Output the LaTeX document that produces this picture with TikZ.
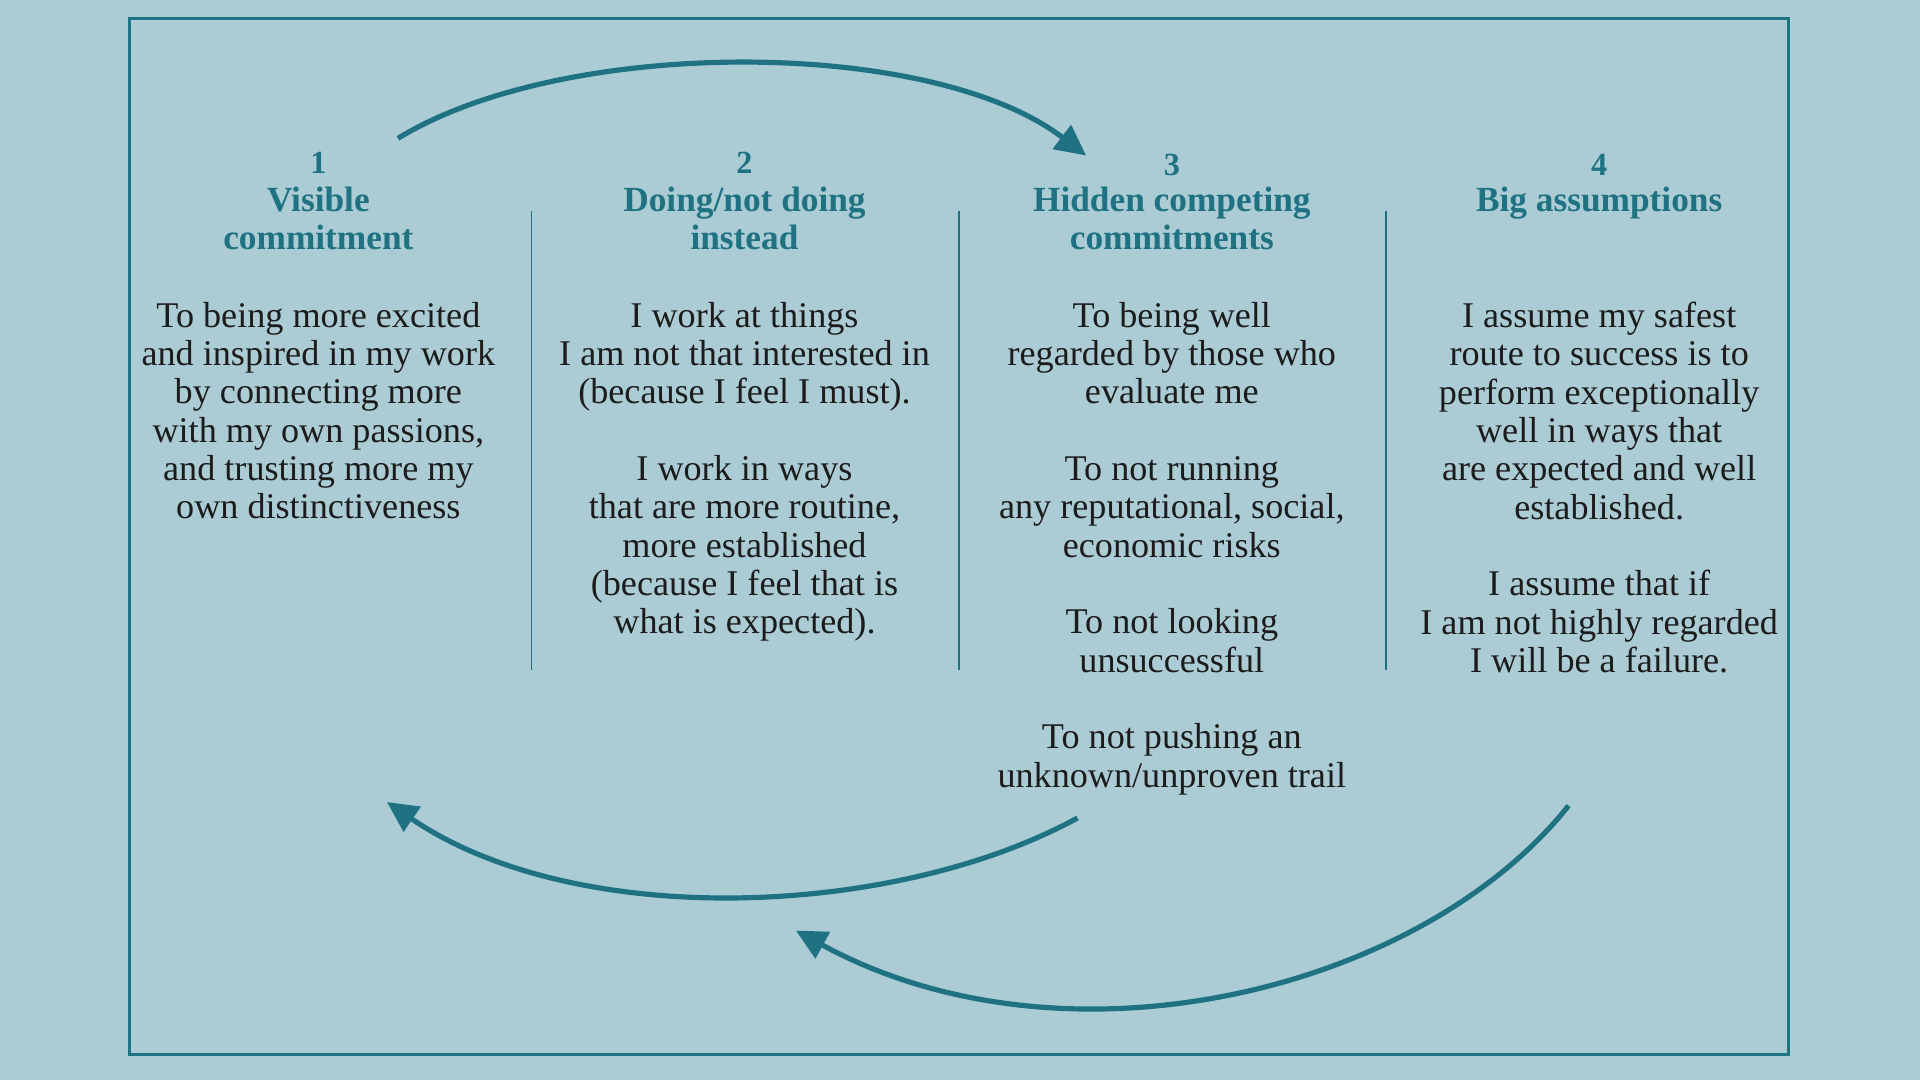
\documentclass[tikz,border=0pt]{standalone}
\usepackage{fontspec}
\setmainfont{Liberation Serif}
\usetikzlibrary{arrows.meta}
\definecolor{bg}{HTML}{ABCCD4}
\definecolor{teal}{HTML}{1E7282}
\definecolor{ink}{HTML}{1C1C1C}
\tikzset{
  num/.style={text=teal,font=\bfseries\fontsize{7.5}{8}\selectfont},
  head/.style={text=teal,font=\bfseries\fontsize{8.2}{8.9}\selectfont,align=center,anchor=north,inner sep=0pt},
  body/.style={text=ink,font=\fontsize{8.4}{8.9}\selectfont,align=center,anchor=north,inner sep=0pt},
  divider/.style={draw=teal,line width=0.4pt},
  cyc/.style={draw=teal,line width=1.2pt,-{Triangle[length=0.25cm,width=0.24cm]}}
}
\begin{document}
\begin{tikzpicture}[x=0.01cm,y=-0.01cm]
\fill[bg] (0,0) rectangle (1568,882);
\useasboundingbox (0,0) rectangle (1568,882);
\draw[teal,line width=0.7pt] (106,15) rectangle (1461,861);
\foreach \x in {434,783,1132} \draw[divider] (\x,172) -- (\x,547);
\node[num] (n1) at (260,133) {1};
\node[num] (n2) at (608,133) {2};
\node[num] (n3) at (957,135) {3};
\node[num] (n4) at (1306,135) {4};
\node[head] (h1) at (260,152) {Visible\\commitment};
\node[head] (h2) at (608,152) {Doing/not doing\\instead};
\node[head] (h3) at (957,152) {Hidden competing\\commitments};
\node[head] (h4) at (1306,152) {Big assumptions};
\node[body] (b1) at (260,246) {To being more excited\\and inspired in my work\\by connecting more\\with my own passions,\\and trusting more my\\own distinctiveness};
\node[body] (b2) at (608,246) {I work at things\\I am not that interested in\\(because I feel I must).\\[8.9pt]I work in ways\\that are more routine,\\more established\\(because I feel that is\\what is expected).};
\node[body] (b3) at (957,246) {To being well\\regarded by those who\\evaluate me\\[8.9pt]To not running\\any reputational, social,\\economic risks\\[8.9pt]To not looking\\unsuccessful\\[8.9pt]To not pushing an\\unknown/unproven trail};
\node[body] (b4) at (1306,246) {I assume my safest\\route to success is to\\perform exceptionally\\well in ways that\\are expected and well\\established.\\[8.9pt]I assume that if\\I am not highly regarded\\I will be a failure.};
\coordinate (a1s) at (325,113); \coordinate (a1e) at (887,127);
\coordinate (a2s) at (880,668); \coordinate (a2e) at (316,655);
\coordinate (a3s) at (1281,658); \coordinate (a3e) at (650,760);
\draw[cyc] (a1s) .. controls (460,30) and (760,30) .. (a1e);
\draw[cyc] (a2s) .. controls (730,750) and (470,760) .. (a2e);
\draw[cyc] (a3s) .. controls (1160,810) and (870,880) .. (a3e);
\end{tikzpicture}
\end{document}
